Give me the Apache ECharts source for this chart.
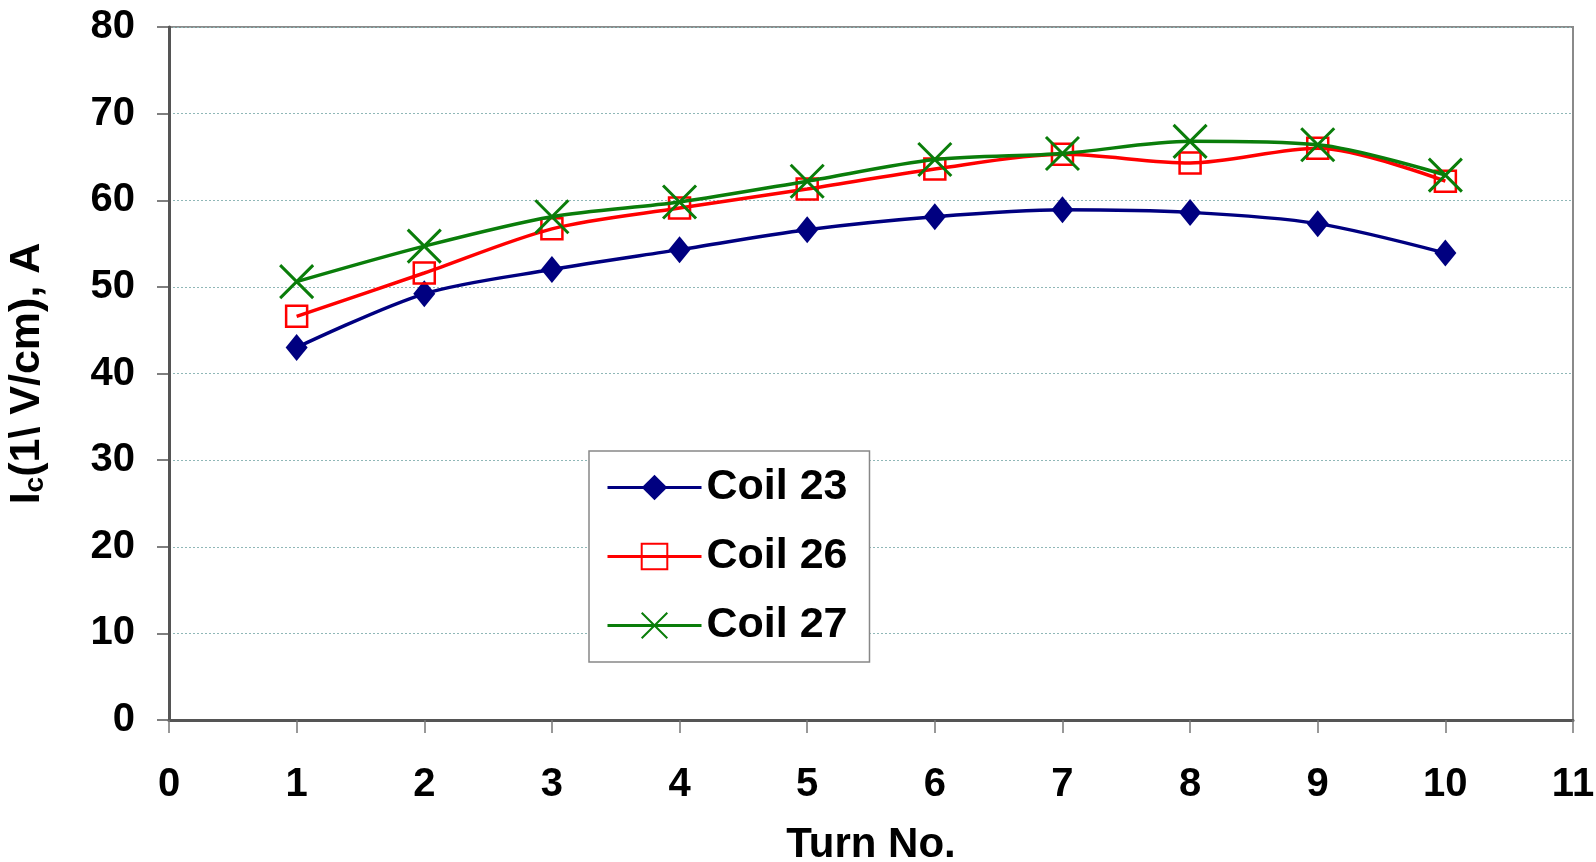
<!DOCTYPE html>
<html>
<head>
<meta charset="utf-8">
<title>Ic per turn</title>
<script src="https://cdn.jsdelivr.net/npm/echarts@6/dist/echarts.min.js"></script>
<style>
	html, body { margin: 0; padding: 0; background: #fff; }
	#main { width: 1596px; height: 862px; }
</style>
</head>
<body>
<div id="main"></div>
<script>
	// turn numbers and measured Ic values
	const turns = [1, 2, 3, 4, 5, 6, 7, 8, 9, 10];
	const coil23 = [43.0, 49.2, 52.0, 54.3, 56.6, 58.1, 58.9, 58.6, 57.3, 53.9];
	const coil26 = [46.6, 51.6, 56.7, 59.1, 61.3, 63.6, 65.3, 64.3, 66.0, 62.2];
	const coil27 = [50.6, 54.7, 58.1, 59.8, 62.2, 64.7, 65.4, 66.8, 66.4, 62.9];
	const xTicks = [0, 1, 2, 3, 4, 5, 6, 7, 8, 9, 10, 11];
	const yTicks = [0, 10, 20, 30, 40, 50, 60, 70, 80];

	const pairs = vals => turns.map((t, i) => [t, vals[i]]);
	const crossPath = 'path://M0,0L10,10M10,0L0,10';
	const font = "'Liberation Sans', Arial, sans-serif";

	let chart = echarts.init(document.getElementById('main'));

	let option = {
		backgroundColor: '#fff',
		animation: false,
		grid: {
			left: 169,
			right: 23,
			top: 27,
			bottom: 142,
			outerBoundsMode: 'none',
			containLabel: false,
			show: true,
			borderColor: '#8a8a8a',
			borderWidth: 2
		},
		legend: {
			orient: 'vertical',
			left: 589,
			top: 451,
			padding: [15, 22, 15, 17],
			backgroundColor: '#fff',
			borderColor: '#888',
			borderWidth: 1.5,
			itemWidth: 94,
			itemHeight: 32,
			itemGap: 26,
			lineStyle: { width: 3 },
			textStyle: {
				fontFamily: font,
				fontWeight: 'bold',
				fontSize: 43,
				lineHeight: 43,
				color: '#000'
			},
			data: ['Coil 23', 'Coil 26', 'Coil 27']
		},
		xAxis: {
			type: 'value',
			min: xTicks[0],
			max: xTicks[xTicks.length - 1],
			interval: 1,
			name: 'Turn No.',
			nameLocation: 'middle',
			nameGap: 104,
			nameTextStyle: {
				fontFamily: font,
				fontWeight: 'bold',
				fontSize: 42,
				color: '#000'
			},
			axisLine: { show: true, lineStyle: { color: '#555', width: 3 } },
			axisTick: { show: true, length: 13, lineStyle: { color: '#777', width: 1.5 } },
			axisLabel: {
				margin: 45,
				fontFamily: font,
				fontWeight: 'bold',
				fontSize: 40,
				color: '#000'
			},
			splitLine: { show: false }
		},
		yAxis: {
			type: 'value',
			min: yTicks[0],
			max: yTicks[yTicks.length - 1],
			interval: 10,
			name: '{i|I}{s|c}{t|(1\\ V/cm), A}',
			nameLocation: 'middle',
			nameGap: 120,
			nameRotate: 90,
			nameTextStyle: {
				color: '#000',
				rich: {
					i: { fontFamily: font, fontWeight: 'bold', fontSize: 43, lineHeight: 44 },
					s: { fontFamily: font, fontWeight: 'bold', fontSize: 28, lineHeight: 44, verticalAlign: 'bottom' },
					t: { fontFamily: font, fontWeight: 'bold', fontSize: 43, lineHeight: 44 }
				}
			},
			axisLine: { show: true, lineStyle: { color: '#555', width: 3 } },
			axisTick: { show: true, length: 12, lineStyle: { color: '#555', width: 1.5 } },
			axisLabel: {
				margin: 34,
				fontFamily: font,
				fontWeight: 'bold',
				fontSize: 40,
				color: '#000'
			},
			splitLine: {
				show: true,
				lineStyle: { color: '#8fb7b7', type: [2, 2], width: 1 }
			}
		},
		series: [
			{
				name: 'Coil 23',
				type: 'line',
				smooth: 0.3,
				data: pairs(coil23),
				symbol: 'diamond',
				symbolSize: [22, 27],
				lineStyle: { color: '#000080', width: 3.5 },
				itemStyle: { color: '#000080' },
				z: 2
			},
			{
				name: 'Coil 26',
				type: 'line',
				smooth: 0.3,
				data: pairs(coil26),
				symbol: 'rect',
				symbolSize: 21,
				lineStyle: { color: '#ff0000', width: 3.5 },
				itemStyle: { color: 'rgba(255,255,255,0)', borderColor: '#ff0000', borderWidth: 2.5 },
				z: 3
			},
			{
				name: 'Coil 27',
				type: 'line',
				smooth: 0.3,
				data: pairs(coil27),
				symbol: crossPath,
				symbolSize: 33,
				lineStyle: { color: '#0a7d0a', width: 3.5 },
				itemStyle: { color: 'rgba(0,0,0,0)', borderColor: '#0a7d0a', borderWidth: 3 },
				z: 4
			}
		]
	};

	chart.setOption(option);

	window.onresize = function() {
		chart.resize();
	}
</script>
</body>
</html>
